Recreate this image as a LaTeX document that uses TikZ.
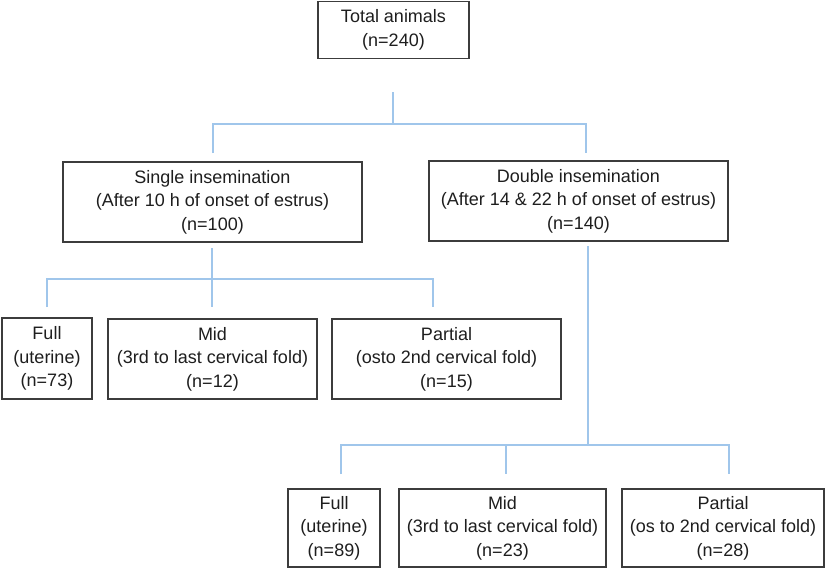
\documentclass[tikz,border=0pt]{standalone}
\usepackage{fontspec}
\setmainfont{Liberation Sans}
\definecolor{boxline}{RGB}{60,60,60}
\definecolor{txt}{RGB}{30,30,30}
\definecolor{conn}{RGB}{160,198,235}
\begin{document}
\begin{tikzpicture}[x=0.75pt,y=-0.75pt,
  box/.style={draw=boxline,line width=1.1pt,inner sep=0pt,align=center,text=txt,
    font=\fontsize{13.5}{17.6}\selectfont},
  link/.style={draw=conn,line width=1.2pt}]
\useasboundingbox[fill=white] (0,0) rectangle (827,569);
% boxes (pixel coordinates)
\node[box,minimum width=151*0.75pt,minimum height=57*0.75pt] (total) at (393.5,30) {Total animals\\(n=240)};
\node[box,minimum width=299*0.75pt,minimum height=80*0.75pt] (single) at (212.5,202) {Single insemination\\(After 10 h of onset of estrus)\\(n=100)};
\node[box,minimum width=299*0.75pt,minimum height=80*0.75pt] (double) at (578.5,201) {Double insemination\\(After 14 \& 22 h of onset of estrus)\\(n=140)};
\node[box,minimum width=90*0.75pt,minimum height=81*0.75pt] (sfull) at (47,358.5) {Full\\(uterine)\\(n=73)};
\node[box,minimum width=209*0.75pt,minimum height=80*0.75pt] (smid) at (212.5,359) {Mid\\(3rd to last cervical fold)\\(n=12)};
\node[box,minimum width=229*0.75pt,minimum height=80*0.75pt] (spart) at (446.5,359) {Partial\\(osto 2nd cervical fold)\\(n=15)};
\node[box,minimum width=92*0.75pt,minimum height=78*0.75pt] (dfull) at (334,528) {Full\\(uterine)\\(n=89)};
\node[box,minimum width=207*0.75pt,minimum height=78*0.75pt] (dmid) at (502.5,528) {Mid\\(3rd to last cervical fold)\\(n=23)};
\node[box,minimum width=202*0.75pt,minimum height=78*0.75pt] (dpart) at (723,528) {Partial\\(os to 2nd cervical fold)\\(n=28)};
% connector coordinates
\coordinate (t0) at (393,92);
\coordinate (t1) at (393,124);
\coordinate (tl) at (213,124);
\coordinate (tr) at (586,124);
\coordinate (tle) at (213,153);
\coordinate (tre) at (586,153);
\coordinate (s0) at (212,248);
\coordinate (s1) at (212,279);
\coordinate (sl) at (47,279);
\coordinate (sr) at (433,279);
\coordinate (sle) at (47,307);
\coordinate (sme) at (212,307);
\coordinate (sre) at (433,307);
\coordinate (d0) at (588,246);
\coordinate (d1) at (588,445);
\coordinate (dl) at (341,445);
\coordinate (dm) at (506,445);
\coordinate (dr) at (729,445);
\coordinate (dle) at (341,474);
\coordinate (dme) at (506,474);
\coordinate (dre) at (729,474);
% connectors
\draw[link] (t0) -- (t1);
\draw[link] (tle) -- (tl) -- (tr) -- (tre);
\draw[link] (s0) -- (s1);
\draw[link] (sle) -- (sl) -- (sr) -- (sre);
\draw[link] (s1) -- (sme);
\draw[link] (d0) -- (d1);
\draw[link] (dle) -- (dl) -- (dr) -- (dre);
\draw[link] (dm) -- (dme);
\end{tikzpicture}
\end{document}
